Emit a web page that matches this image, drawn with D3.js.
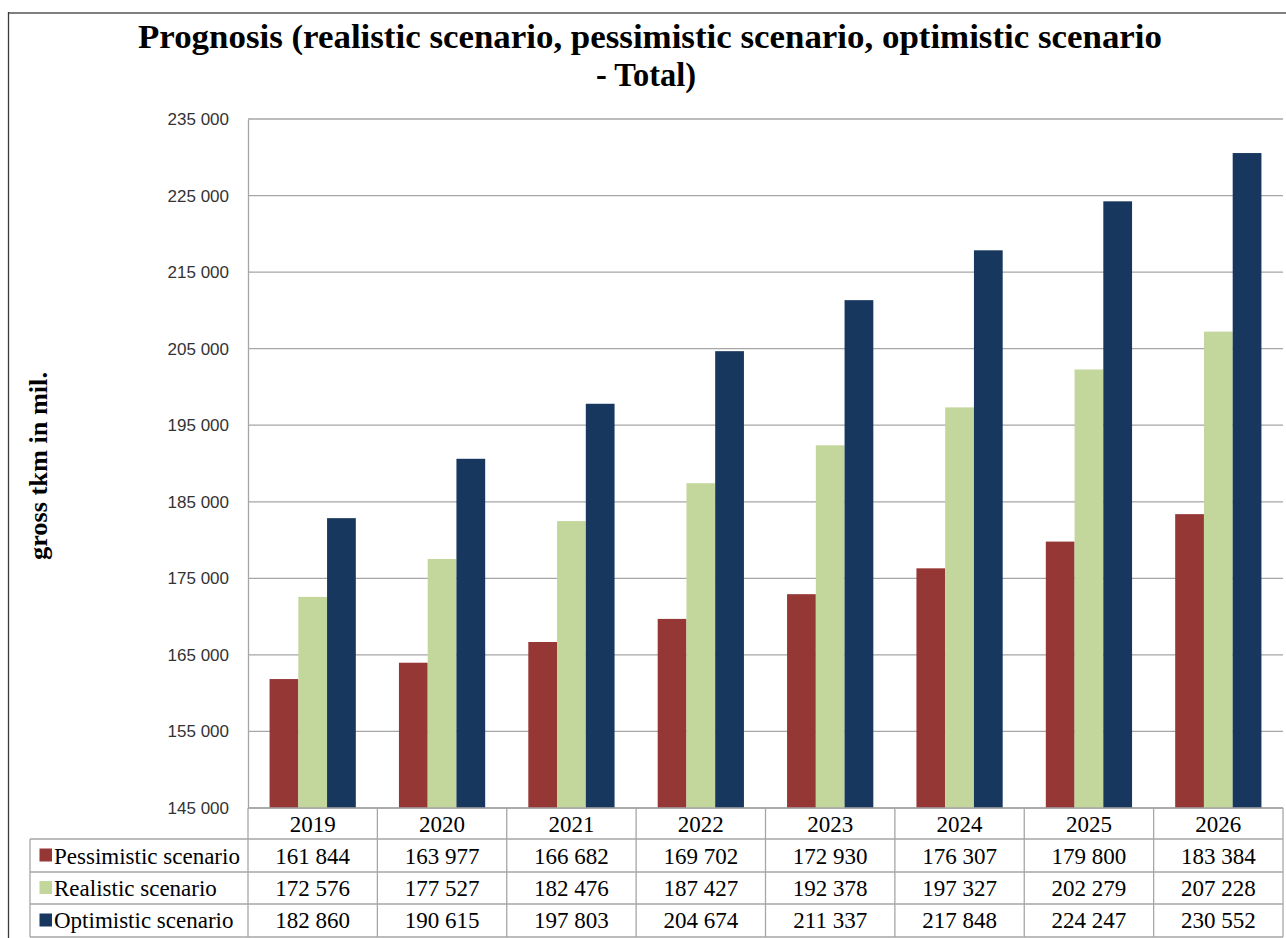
<!DOCTYPE html>
<html><head><meta charset="utf-8">
<script src="https://cdn.jsdelivr.net/npm/d3@7"></script>
<style>html,body{margin:0;padding:0;background:#fff;}svg{display:block;}</style>
</head><body>
<svg id="c" width="1286" height="938"></svg>
<script>
const years = ["2019","2020","2021","2022","2023","2024","2025","2026"];
const seriesNames = ["Pessimistic scenario","Realistic scenario","Optimistic scenario"];
const seriesColors = ["#953735","#c3d69b","#17375e"];
const pessimistic = [161844,163977,166682,169702,172930,176307,179800,183384];
const realistic = [172576,177527,182476,187427,192378,197327,202279,207228];
const optimistic = [182860,190615,197803,204674,211337,217848,224247,230552];
const yTicks = [145000,155000,165000,175000,185000,195000,205000,215000,225000,235000];
const titleLines = ["Prognosis (realistic scenario, pessimistic scenario, optimistic scenario","- Total)"];
const yLabel = "gross tkm in mil.";

const series = [pessimistic, realistic, optimistic];
const loc = d3.formatLocale({decimal:",", thousands:" ", grouping:[3], currency:["",""]});
const fmt = loc.format(",");

const svg = d3.select("#c");
const L = 248, R = 1283, T = 119, B = 808;
const rowY = [808, 839, 872, 904, 937];
const tableLeft = 30;

// outer border
svg.append("line").attr("x1",8).attr("x2",1286).attr("y1",13).attr("y2",13).attr("stroke","#7f7f7f").attr("stroke-width",2);
svg.append("line").attr("x1",8.5).attr("x2",8.5).attr("y1",12).attr("y2",938).attr("stroke","#3a3a3a").attr("stroke-width",1.3);

const y = d3.scaleLinear().domain([145000,235000]).range([B,T]);
const x0 = d3.scaleBand().domain(years).range([L,R]).padding(0);
const W = x0.bandwidth();
const x1 = d3.scaleBand().domain(d3.range(3)).range([W*0.75/4.5, W - W*0.75/4.5]).padding(0);

// gridlines
svg.append("g").selectAll("line").data(yTicks).join("line")
  .attr("x1",L).attr("x2",R).attr("y1",d=>y(d)).attr("y2",d=>y(d))
  .attr("stroke","#a6a6a6").attr("stroke-width",1.3);

// y axis
const yAxis = d3.axisLeft(y).tickValues(yTicks).tickSize(0).tickPadding(19).tickFormat(fmt);
const ga = svg.append("g").attr("transform",`translate(${L},0)`).call(yAxis);
ga.select(".domain").attr("stroke","#a6a6a6").attr("stroke-width",1.3);
ga.selectAll("text").style("font-family","'Liberation Sans', Arial, sans-serif").style("font-size","17px").attr("fill","#333");

// bars
const gBars = svg.append("g");
years.forEach((yr,i)=>{
  series.forEach((s,j)=>{
    gBars.append("rect")
      .attr("x", x0(yr)+x1(j)).attr("width", x1.bandwidth())
      .attr("y", y(s[i])).attr("height", B - y(s[i]))
      .attr("fill", seriesColors[j]);
  });
});

// table lines
const tl = svg.append("g").attr("stroke","#a6a6a6").attr("stroke-width",1.3);
tl.append("line").attr("x1",L).attr("x2",R).attr("y1",rowY[0]).attr("y2",rowY[0]);
for (let k=1;k<rowY.length;k++){
  tl.append("line").attr("x1",tableLeft).attr("x2",R).attr("y1",rowY[k]).attr("y2",rowY[k]);
}
tl.append("line").attr("x1",tableLeft).attr("x2",tableLeft).attr("y1",rowY[1]).attr("y2",rowY[4]);
years.forEach(yr=>{
  tl.append("line").attr("x1",x0(yr)).attr("x2",x0(yr)).attr("y1",rowY[0]).attr("y2",rowY[4]);
});
tl.append("line").attr("x1",R).attr("x2",R).attr("y1",rowY[0]).attr("y2",rowY[4]);

const serif = "'Liberation Serif', 'Times New Roman', serif";
// header years
svg.append("g").selectAll("text").data(years).join("text")
  .attr("x",d=>x0(d)+W/2).attr("y",831.5).attr("text-anchor","middle")
  .style("font-family",serif).style("font-size","23px").attr("fill","#000").text(d=>d);

const baselines = [863.5, 895.5, 927.5];
series.forEach((s,j)=>{
  const cy = (rowY[j+1]+rowY[j+2])/2;
  svg.append("rect").attr("x",39.5).attr("y",cy-7).attr("width",12.5).attr("height",13).attr("fill",seriesColors[j]);
  svg.append("text").attr("x",54).attr("y",baselines[j]).style("font-family",serif).style("font-size","23px").attr("fill","#000").text(seriesNames[j]);
  svg.append("g").selectAll("text").data(s).join("text")
    .attr("x",(d,i)=>x0(years[i])+W/2).attr("y",baselines[j]).attr("text-anchor","middle")
    .style("font-family",serif).style("font-size","23px").attr("fill","#000").text(d=>fmt(d));
});

// title
svg.append("text").attr("x",650).attr("y",48).attr("text-anchor","middle")
  .style("font-family",serif).style("font-weight","bold").style("font-size","34px")
  .attr("textLength",1024).attr("lengthAdjust","spacingAndGlyphs").text(titleLines[0]);
svg.append("text").attr("x",646).attr("y",86).attr("text-anchor","middle")
  .style("font-family",serif).style("font-weight","bold").style("font-size","34px")
  .attr("textLength",100).attr("lengthAdjust","spacingAndGlyphs")
  .text(titleLines[1]);

// y label
svg.append("text").attr("transform",`translate(47,466) rotate(-90)`).attr("text-anchor","middle")
  .style("font-family",serif).style("font-weight","bold").style("font-size","26px")
  .attr("textLength",188).attr("lengthAdjust","spacingAndGlyphs").text(yLabel);
</script>
</body></html>
